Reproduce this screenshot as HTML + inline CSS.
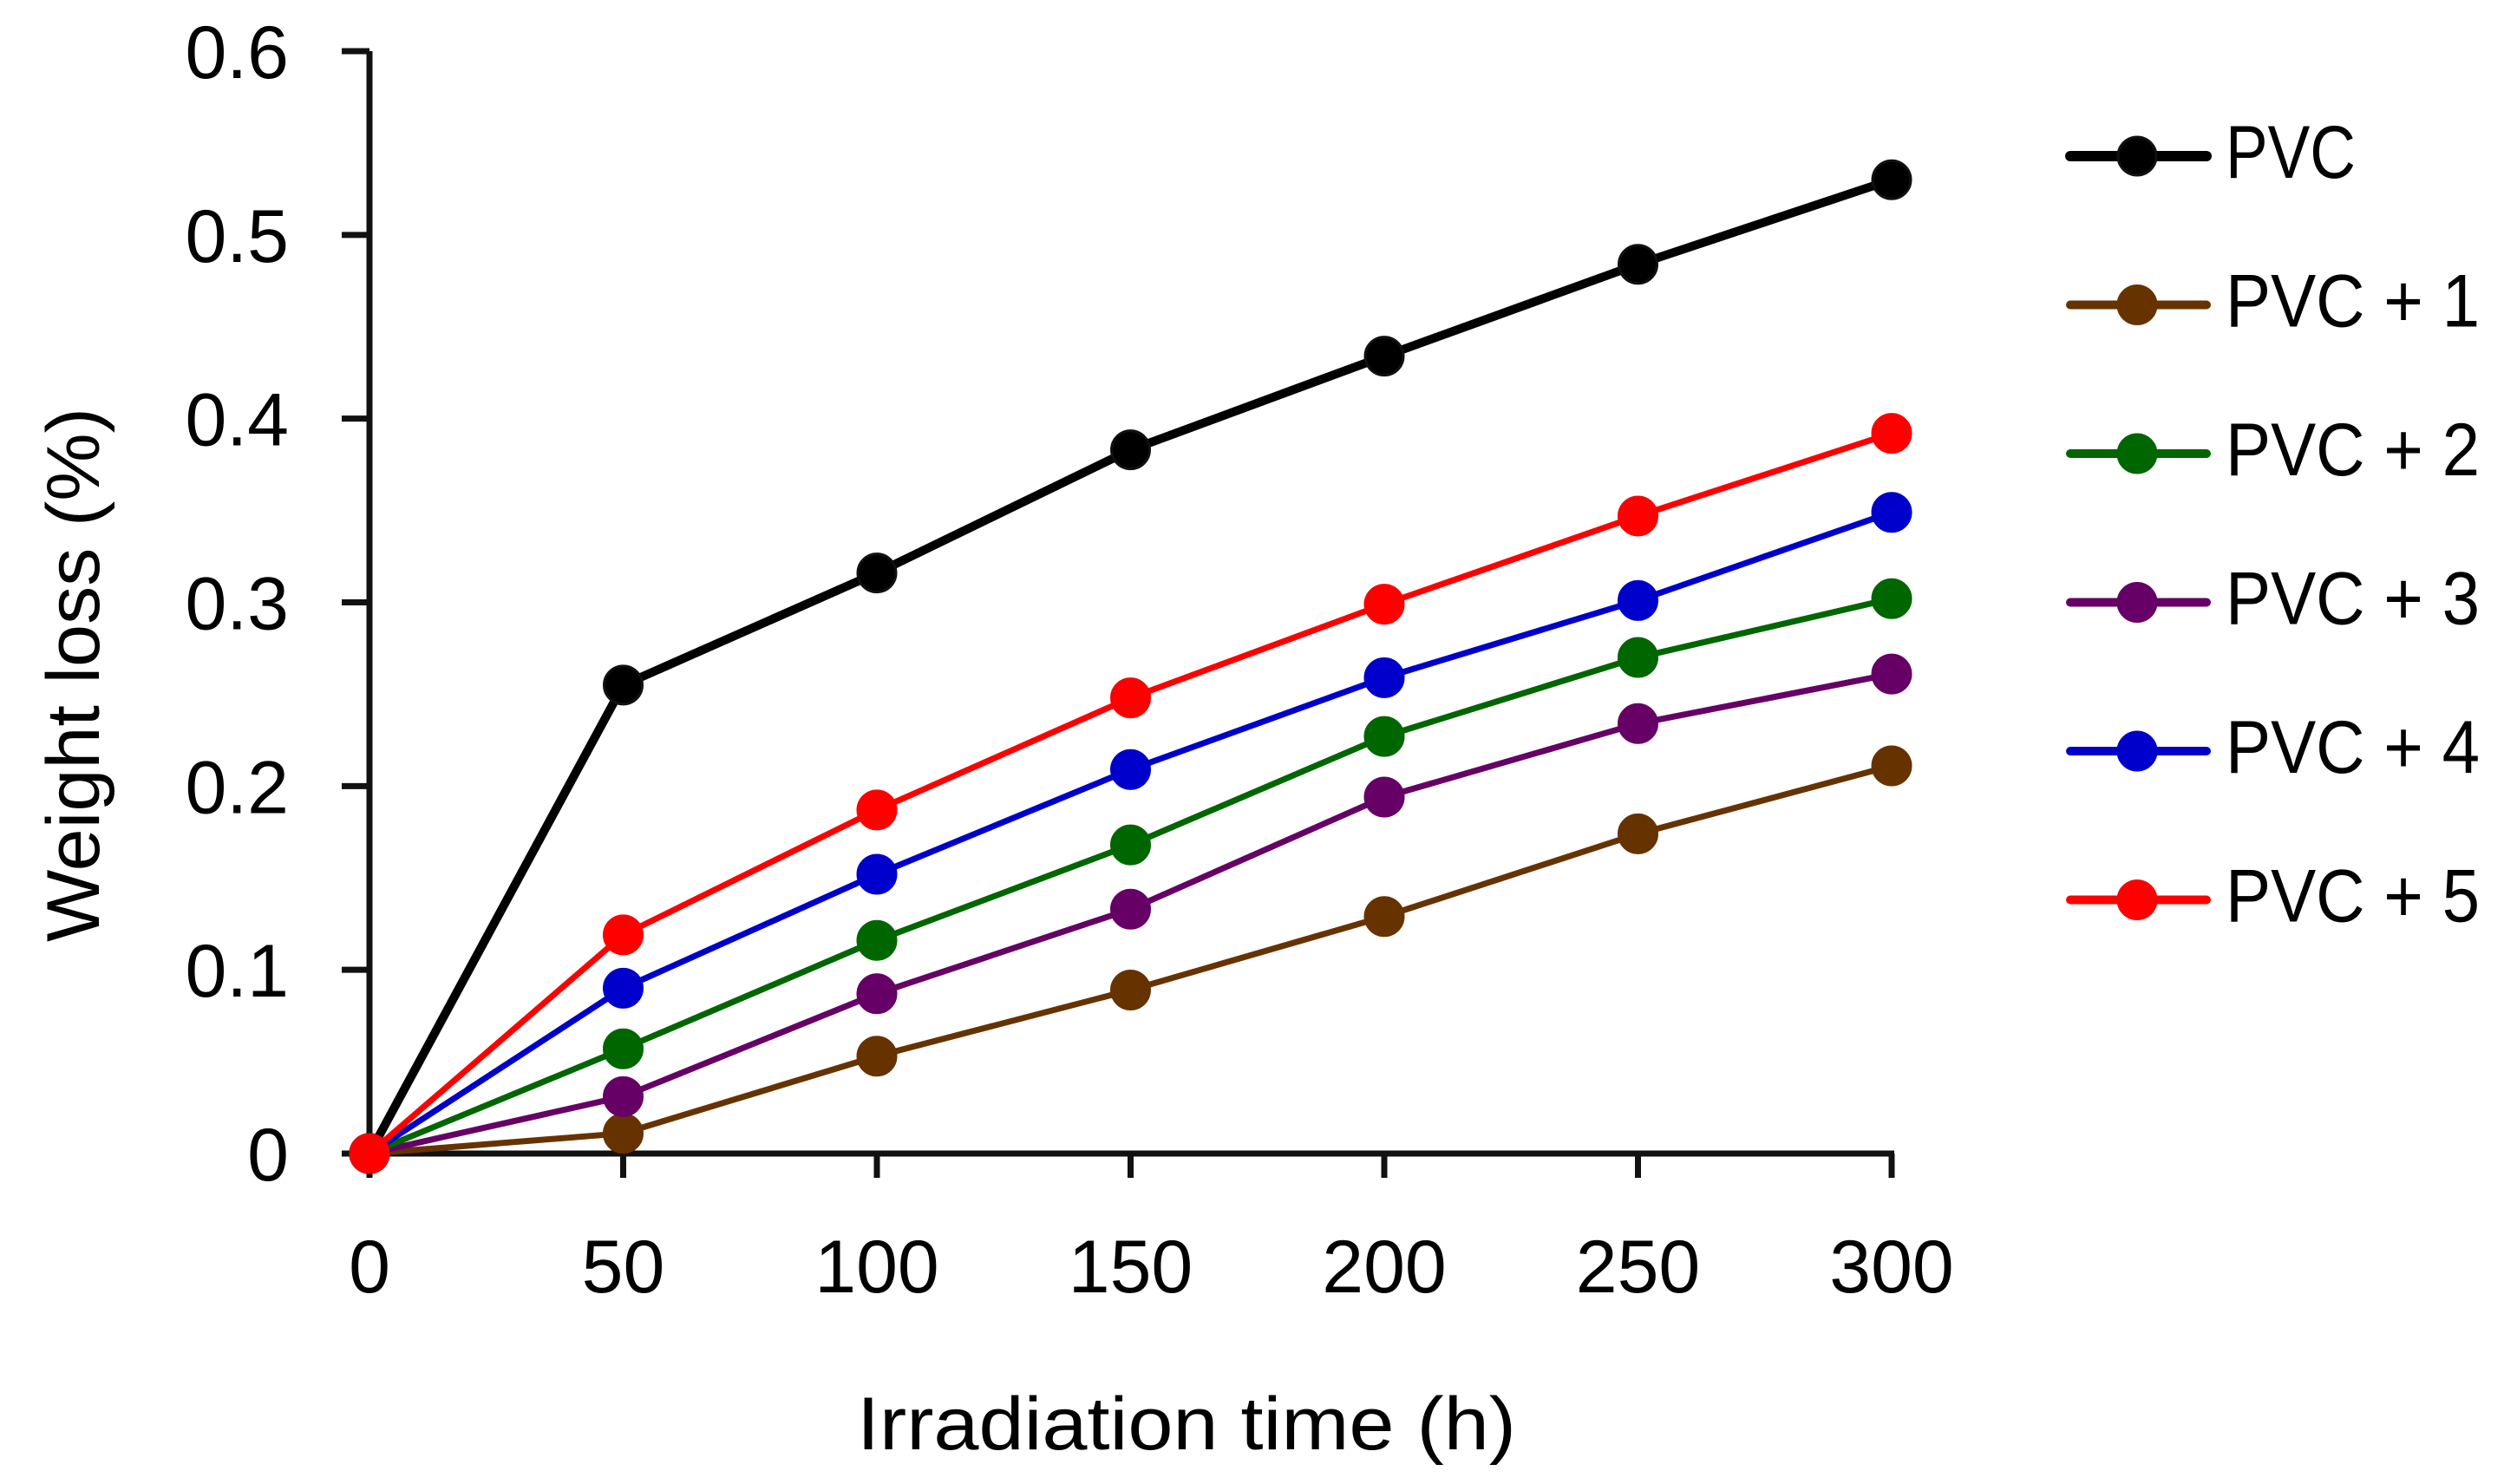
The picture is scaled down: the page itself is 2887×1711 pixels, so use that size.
<!DOCTYPE html>
<html><head><meta charset="utf-8"><style>
html,body{margin:0;padding:0;background:#fff}
svg{display:block}
text{font-family:"Liberation Sans",sans-serif;fill:#000}
</style></head><body>
<svg id="chart" width="2887" height="1711" viewBox="0 0 2887 1711" xmlns="http://www.w3.org/2000/svg">
<g id="axes"></g>
<g id="series"></g>
<g id="legend"></g>
<text x="1368" y="1671" font-size="86" text-anchor="middle" textLength="760" lengthAdjust="spacingAndGlyphs">Irradiation time (h)</text>
<text transform="translate(114,778) rotate(-90)" font-size="86" text-anchor="middle" textLength="616" lengthAdjust="spacingAndGlyphs">Weight loss (%)</text>
</svg>
<script>
const categories = [0, 50, 100, 150, 200, 250, 300];
const seriesNames = ["PVC", "PVC + 1", "PVC + 2", "PVC + 3", "PVC + 4", "PVC + 5"];
const sPVC = [0, 0.255, 0.316, 0.383, 0.434, 0.484, 0.530];
const sPVC1 = [0, 0.011, 0.053, 0.089, 0.129, 0.174, 0.211];
const sPVC2 = [0, 0.057, 0.116, 0.168, 0.227, 0.270, 0.302];
const sPVC3 = [0, 0.031, 0.087, 0.133, 0.194, 0.234, 0.261];
const sPVC4 = [0, 0.090, 0.152, 0.209, 0.259, 0.301, 0.349];
const sPVC5 = [0, 0.119, 0.187, 0.248, 0.299, 0.347, 0.392];
const yTicks = [0, 0.1, 0.2, 0.3, 0.4, 0.5, 0.6];
const yTickLabels = ["0", "0.1", "0.2", "0.3", "0.4", "0.5", "0.6"];
const xTickLabels = ["0", "50", "100", "150", "200", "250", "300"];

const NS = "http://www.w3.org/2000/svg";
const X0 = 426, X1 = 2181, Y0 = 1330, Y1 = 59;
const xs = v => X0 + (v - 0) / 300 * (X1 - X0);
const ys = v => Y0 - v / 0.6 * (Y0 - Y1);
function mk(tag, attrs, parent) {
  const e = document.createElementNS(NS, tag);
  for (const k in attrs) e.setAttribute(k, attrs[k]);
  parent.appendChild(e);
  return e;
}
const axes = document.getElementById("axes");
let e;
e = mk("line", {x1: X0, y1: Y1, x2: X0, y2: Y0 + 3, stroke: "#111", "stroke-width": 7}, axes);


e = mk("line", {x1: X0 - 3, y1: Y0, x2: X1 + 3, y2: Y0, stroke: "#111", "stroke-width": 7}, axes);


yTicks.forEach((t, i) => {
  const y = ys(t);
  let tk = mk("line", {x1: X0 - 32, y1: y, x2: X0, y2: y, stroke: "#111", "stroke-width": 7}, axes);
  
  
  let tx = mk("text", {x: 333, y: y + 31, "font-size": 86, "text-anchor": "end"}, axes);
  tx.textContent = yTickLabels[i];
  
  
});
categories.forEach((c, i) => {
  const x = xs(c);
  let tk = mk("line", {x1: x, y1: Y0, x2: x, y2: Y0 + 28, stroke: "#111", "stroke-width": 7}, axes);
  
  
  let tx = mk("text", {x: x, y: 1490, "font-size": 86, "text-anchor": "middle"}, axes);
  tx.textContent = xTickLabels[i];
  
  
});
const allSeries = [sPVC, sPVC1, sPVC2, sPVC3, sPVC4, sPVC5];
const colors = ["#000000", "#663300", "#006600", "#660066", "#0000CC", "#FF0000"];
const widths = [10, 7, 7, 7, 7, 7];
const drawOrder = [0, 1, 3, 2, 4, 5];
const sg = document.getElementById("series");
drawOrder.forEach(si => {
  const vals = allSeries[si];
  const g = mk("g", {}, sg);
  
  
  const pts = vals.map((v, i) => xs(categories[i]) + "," + ys(v)).join(" ");
  const pl = mk("polyline", {points: pts, fill: "none", stroke: colors[si], "stroke-width": widths[si], "stroke-linejoin": "round"}, g);
  
  
  vals.forEach((v, i) => {
    const c = mk("circle", {cx: xs(categories[i]), cy: ys(v), r: 22, fill: colors[si], stroke: si === 0 ? "#111" : colors[si], "stroke-width": 3}, g);
    
    
  });
});
const lg = document.getElementById("legend");
seriesNames.forEach((n, i) => {
  const y = 180 + i * 171.5;
  const g = mk("g", {}, lg);
  
  
  mk("line", {x1: 2387, y1: y, x2: 2544, y2: y, stroke: colors[i], "stroke-width": i === 0 ? 12 : 10, "stroke-linecap": "round"}, g);
  mk("circle", {cx: 2464, cy: y, r: 22, fill: colors[i], stroke: i === 0 ? "#111" : colors[i], "stroke-width": 3}, g);
  const t = mk("text", {x: 2566, y: y + 25, "font-size": 86}, g);
  t.textContent = n;
  const w = i === 0 ? 150 : 293;
  t.setAttribute("textLength", w);
  t.setAttribute("lengthAdjust", "spacingAndGlyphs");
});
</script>
</body></html>
